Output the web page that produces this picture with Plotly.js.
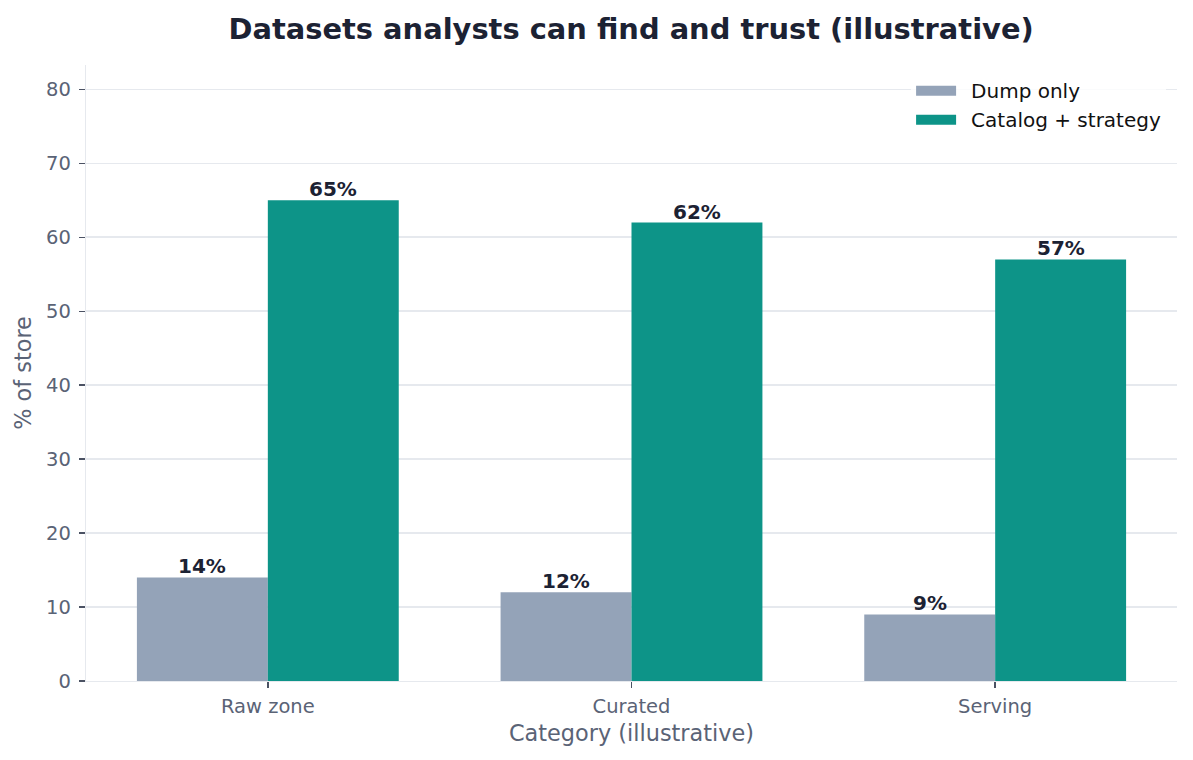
<!DOCTYPE html>
<html>
<head>
<meta charset="utf-8">
<script src="https://cdn.plot.ly/plotly-3.0.1.min.js"></script>
<style>
  html, body { margin: 0; padding: 0; background: #ffffff; }
  #chart { width: 1193px; height: 760px; }
</style>
</head>
<body>
<div id="chart"></div>
<script>
// Share of datasets analysts can find and trust, by storage layer
const categories = ["Raw zone", "Curated", "Serving"];
const dumpOnly = [14, 12, 9];
const catalogStrategy = [65, 62, 57];
const seriesNames = ["Dump only", "Catalog + strategy"];
const seriesColors = ["#94a3b8", "#0d9488"];

const FONT = "DejaVu Sans, Verdana, sans-serif";
const INK = "#1c2233";
const MUTED = "#5a6376";
const GRID = "#e6e9ee";
const BARGAP = 0.28;

function pctLabel(v) { return v + "%"; }

function barTrace(i, vals) {
  return {
    type: "bar",
    name: seriesNames[i],
    legendgroup: "s" + i,
    showlegend: false,
    x: categories,
    y: vals,
    marker: { color: seriesColors[i] },
    hoverinfo: "skip"
  };
}

// Legend entries drawn as wide swatches (thick line keys);
// an en space widens the gap between swatch and label
function legendKey(i) {
  return {
    type: "scatter",
    mode: "lines",
    name: "\u2002" + seriesNames[i],
    legendgroup: "s" + i,
    x: [null],
    y: [null],
    line: { color: seriesColors[i], width: 14 },
    hoverinfo: "skip"
  };
}

// Value labels sitting just above each bar
const series = [dumpOnly, catalogStrategy];
const barWidth = (1 - BARGAP) / series.length;
const annotations = [];
series.forEach((vals, s) => {
  const offset = -(1 - BARGAP) / 2 + barWidth * (s + 0.5);
  vals.forEach((v, c) => {
    annotations.push({
      x: c + offset,
      y: v,
      xref: "x",
      yref: "y",
      text: pctLabel(v),
      showarrow: false,
      xanchor: "center",
      yanchor: "bottom",
      yshift: -3,
      font: { family: FONT, size: 20, color: INK, weight: "bold" }
    });
  });
});

const traces = [
  barTrace(0, dumpOnly),
  barTrace(1, catalogStrategy),
  legendKey(0),
  legendKey(1)
];

const layout = {
  width: 1193,
  height: 760,
  margin: { l: 86, r: 16, t: 65, b: 79 },
  paper_bgcolor: "#ffffff",
  plot_bgcolor: "#ffffff",
  barmode: "group",
  bargap: BARGAP,
  bargroupgap: 0,
  font: { family: FONT, color: MUTED },
  title: {
    text: "Datasets analysts can find and trust (illustrative)",
    font: { family: FONT, size: 28.9, color: INK, weight: "bold" },
    x: 0.529,
    xanchor: "center",
    y: 0.962,
    yanchor: "middle"
  },
  xaxis: {
    type: "category",
    range: [-0.5, 2.5],
    showline: true,
    linecolor: GRID,
    linewidth: 1.3,
    ticks: "outside",
    ticklen: 6,
    tickwidth: 1.5,
    tickcolor: "#4b5263",
    tickfont: { family: FONT, size: 19.5, color: MUTED },
    ticklabelstandoff: 1,
    showgrid: false,
    zeroline: false,
    title: {
      text: "Category (illustrative)",
      font: { family: FONT, size: 22.4, color: MUTED },
      standoff: 8
    }
  },
  yaxis: {
    range: [0, 83.3],
    tickvals: [0, 10, 20, 30, 40, 50, 60, 70, 80],
    showline: true,
    linecolor: GRID,
    linewidth: 1.3,
    ticks: "outside",
    ticklen: 6,
    tickwidth: 1.5,
    tickcolor: "#4b5263",
    tickfont: { family: FONT, size: 19.5, color: MUTED },
    ticklabelstandoff: 4,
    showgrid: true,
    gridcolor: GRID,
    gridwidth: 1.7,
    zeroline: false,
    title: {
      text: "% of store",
      font: { family: FONT, size: 22.4, color: MUTED },
      standoff: 8
    }
  },
  legend: {
    x: 0.99,
    xanchor: "right",
    y: 0.99,
    yanchor: "top",
    bgcolor: "rgba(255,255,255,0.8)",
    borderwidth: 0,
    font: { family: FONT, size: 20, color: "#111111" },
    itemwidth: 40,
    tracegroupgap: 0
  },
  annotations: annotations,
  showlegend: true
};

Plotly.newPlot("chart", traces, layout, { displayModeBar: false, staticPlot: true });
</script>
</body>
</html>
